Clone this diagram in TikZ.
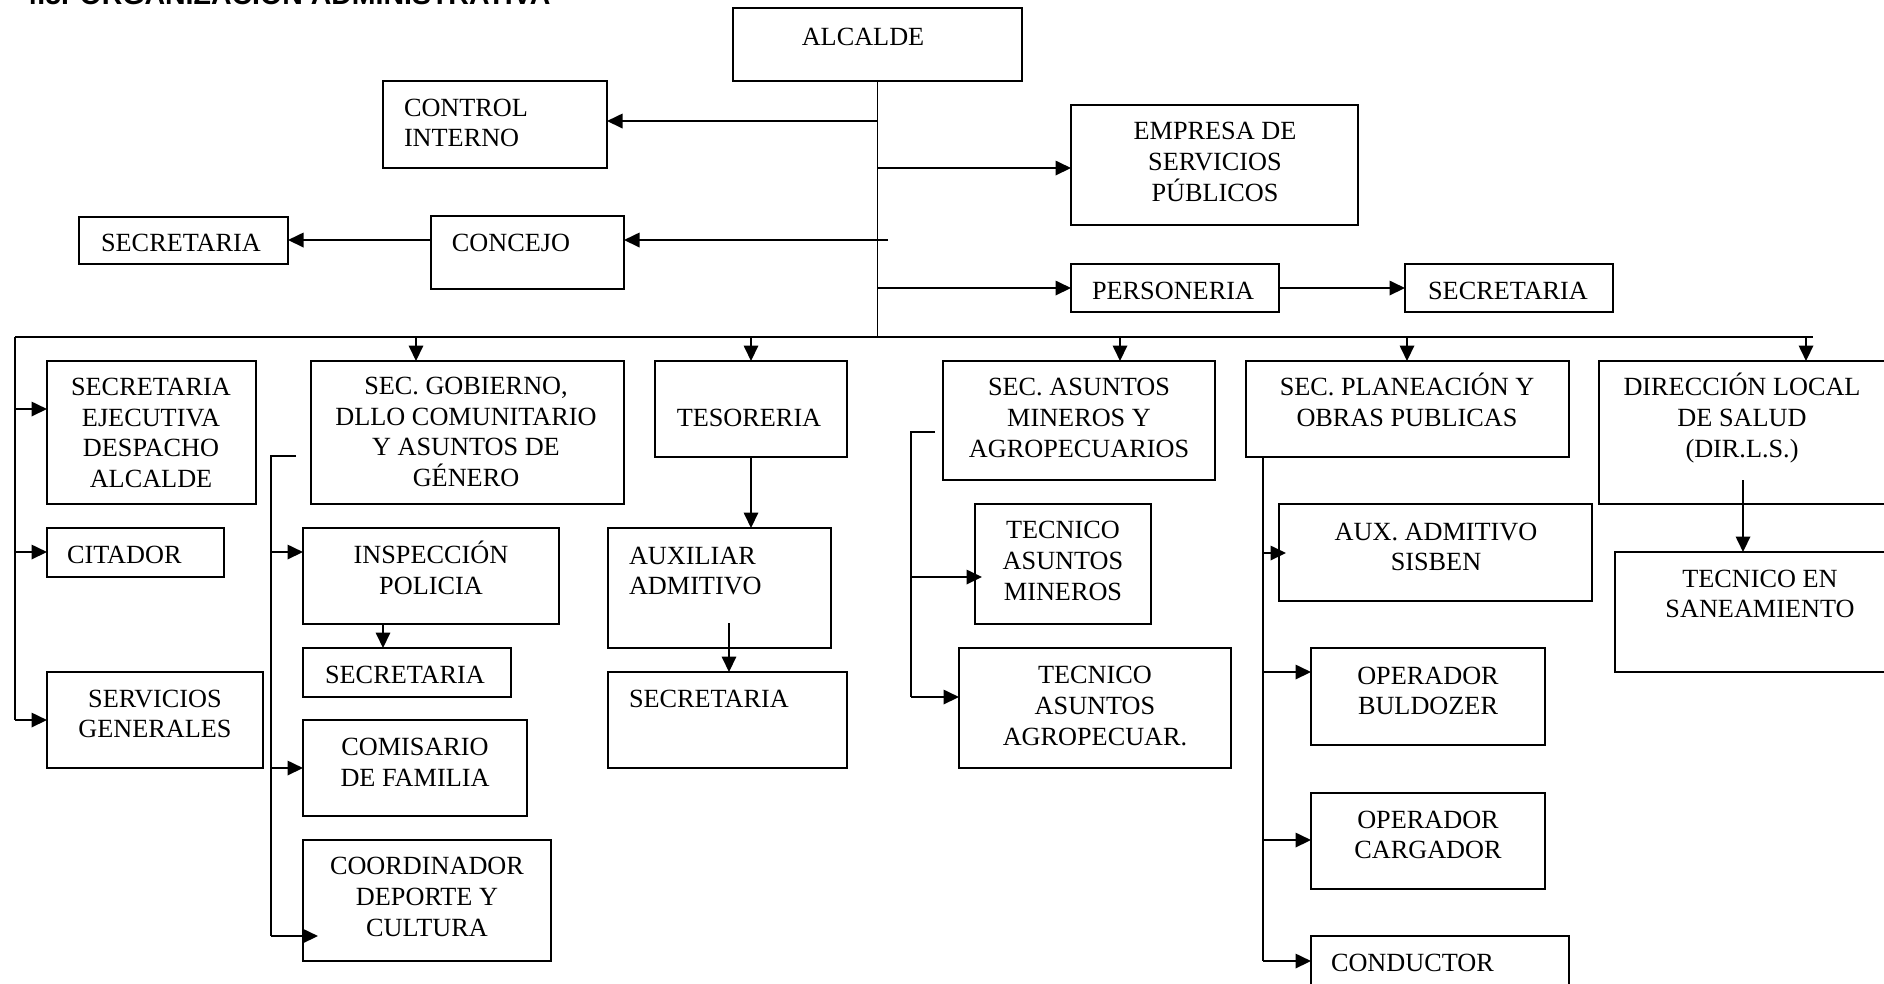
\documentclass[tikz,border=0pt]{standalone}
\usepackage{fontspec}
\setmainfont{Liberation Serif}
\newfontfamily\titlefont{Liberation Sans}
\usetikzlibrary{arrows.meta}
\tikzset{
  orgbox/.style={draw, line width=0.75pt, inner sep=0pt, outer sep=0pt, rectangle},
  lbl/.style={inner sep=0pt, outer sep=0pt, align=center, font=\fontsize{10.5}{12.3}\selectfont},
  lbll/.style={lbl, align=left, anchor=west},
  conn/.style={line width=0.7pt},
  arr/.style={conn, -{Triangle[length=6.2pt,width=5.8pt]}},
}
\newcommand{\obox}[5]{\node[orgbox, minimum width={(#4-#2)*0.4pt}, minimum height={(#5-#3)*0.4pt}] (#1) at ({(#2+#4)/2},{(#3+#5)/2}) {};}
\begin{document}
\begin{tikzpicture}[x=0.4pt,y=-0.4pt]
\useasboundingbox (0,0) rectangle (1884,983);
% title (cut off at top edge)
\node[anchor=base west, inner sep=0pt, font=\titlefont\bfseries\fontsize{11.4}{13}\selectfont] (title) at (21,4) {4.5. ORGANIZACIÓN ADMINISTRATIVA};
% boxes
\obox{alcalde}{733}{8}{1022}{81}
\obox{ctrl}{383}{81}{607}{168}
\obox{empresa}{1071}{105}{1358}{225}
\obox{secA}{79}{217}{288}{264}
\obox{concejo}{431}{216}{624}{289}
\obox{personeria}{1071}{264}{1279}{312}
\obox{secB}{1405}{264}{1613}{312}
\obox{secej}{47}{361}{256}{504}
\obox{gob}{311}{361}{624}{504}
\obox{tes}{655}{361}{847}{457}
\obox{mineros}{943}{361}{1215}{480}
\obox{plan}{1246}{361}{1569}{457}
\obox{dir}{1599}{361}{1887}{504}
\obox{citador}{47}{528}{224}{577}
\obox{insp}{303}{528}{559}{624}
\obox{secC}{303}{648}{511}{697}
\obox{servgen}{47}{672}{263}{768}
\obox{comis}{303}{720}{527}{816}
\obox{coord}{303}{840}{551}{961}
\obox{aux}{608}{528}{831}{648}
\obox{secD}{608}{672}{847}{768}
\obox{tecmin}{975}{504}{1151}{624}
\obox{tecagro}{959}{648}{1231}{768}
\obox{sisben}{1279}{504}{1592}{601}
\obox{buld}{1311}{648}{1545}{745}
\obox{carg}{1311}{793}{1545}{889}
\obox{cond}{1311}{936}{1569}{1010}
\obox{tecsan}{1615}{552}{1905}{672}
% texts
\node[lbl] (alcaldeT) at (863,37) {ALCALDE};
\node[lbll] (ctrlT) at (404,123) {CONTROL\\INTERNO};
\node[lbl] (empresaT) at (1215,162) {EMPRESA DE\\SERVICIOS\\PÚBLICOS};
\node[lbl] (secAT) at (181,243) {SECRETARIA};
\node[lbl] (concejoT) at (511,243) {CONCEJO};
\node[lbl] (personeriaT) at (1173,291) {PERSONERIA};
\node[lbl] (secBT) at (1508,291) {SECRETARIA};
\node[lbl] (secejT) at (151,433) {SECRETARIA\\EJECUTIVA\\DESPACHO\\ALCALDE};
\node[lbl] (gobT) at (466,432) {SEC. GOBIERNO,\\DLLO COMUNITARIO\\Y ASUNTOS DE\\GÉNERO};
\node[lbl] (tesT) at (749,418) {TESORERIA};
\node[lbl] (minerosT) at (1079,418) {SEC. ASUNTOS\\MINEROS Y\\AGROPECUARIOS};
\node[lbl] (planT) at (1407,400) {SEC. PLANEACIÓN Y\\OBRAS PUBLICAS};
\node[lbl] (dirT) at (1742,418) {DIRECCIÓN LOCAL\\DE SALUD\\(DIR.L.S.)};
\node[lbll] (citadorT) at (67,555) {CITADOR};
\node[lbl] (inspT) at (431,568) {INSPECCIÓN\\POLICIA};
\node[lbl] (secCT) at (405,675) {SECRETARIA};
\node[lbl] (servgenT) at (155,714) {SERVICIOS\\GENERALES};
\node[lbl] (comisT) at (415,762) {COMISARIO\\DE FAMILIA};
\node[lbl] (coordT) at (427,897) {COORDINADOR\\DEPORTE Y\\CULTURA};
\node[lbll] (auxT) at (629,571) {AUXILIAR\\ADMITIVO};
\node[lbll] (secDT) at (629,699) {SECRETARIA};
\node[lbl] (tecminT) at (1063,561) {TECNICO\\ASUNTOS\\MINEROS};
\node[lbl] (tecagroT) at (1095,706) {TECNICO\\ASUNTOS\\AGROPECUAR.};
\node[lbl] (sisbenT) at (1436,547) {AUX. ADMITIVO\\SISBEN};
\node[lbl] (buldT) at (1428,691) {OPERADOR\\BULDOZER};
\node[lbl] (cargT) at (1428,835) {OPERADOR\\CARGADOR};
\node[lbll] (condT) at (1331,963) {CONDUCTOR};
\node[lbl] (tecsanT) at (1760,594) {TECNICO EN\\SANEAMIENTO};
% junction coordinates
\coordinate (busL) at (15,337);
\coordinate (busR) at (1813,337);
\coordinate (cj) at (888,240);
\coordinate (L1) at (15,409);
\coordinate (L2) at (15,552);
\coordinate (L3) at (15,720);
\coordinate (B1) at (416,337);
\coordinate (B2) at (751,337);
\coordinate (B3) at (1120,337);
\coordinate (B4) at (1407,337);
\coordinate (B5) at (1806,337);
\coordinate (G0) at (296,456);
\coordinate (G1) at (271,456);
\coordinate (G2) at (271,552);
\coordinate (G3) at (271,768);
\coordinate (G4) at (271,936);
\coordinate (G5) at (318,936);
\coordinate (I1) at (383,624);
\coordinate (A1) at (729,623);
\coordinate (M0) at (935,432);
\coordinate (M1) at (911,432);
\coordinate (M2) at (911,577);
\coordinate (M3) at (911,697);
\coordinate (M4) at (982,577);
\coordinate (P0) at (1263,457);
\coordinate (P1) at (1263,553);
\coordinate (P1e) at (1286,553);
\coordinate (P2) at (1263,672);
\coordinate (P3) at (1263,840);
\coordinate (P4) at (1263,961);
\coordinate (D1) at (1743,480);
\coordinate (T1) at (879,121);
\coordinate (T2) at (879,168);
% connectors: top
\draw[conn] (alcalde.south) -- (alcalde.south |- busL);
\draw[conn] (busL) -- (busR);
\draw[arr] (alcalde.south |- T1) -- (ctrl.east |- T1);
\draw[arr] (alcalde.south |- T2) -- (empresa.west |- T2);
\draw[arr] (cj) -- (concejo.east |- cj);
\draw[arr] (concejo.west |- cj) -- (secA.east |- cj);
\draw[arr] (alcalde.south |- personeria.west) -- (personeria.west);
\draw[arr] (personeria.east) -- (secB.west);
% left column
\draw[conn] (busL) -- (L3);
\draw[arr] (L1) -- (secej.west |- L1);
\draw[arr] (L2) -- (citador.west |- L2);
\draw[arr] (L3) -- (servgen.west |- L3);
% down arrows from bus
\draw[arr] (B1) -- (B1 |- gob.north);
\draw[arr] (B2) -- (B2 |- tes.north);
\draw[arr] (B3) -- (B3 |- mineros.north);
\draw[arr] (B4) -- (B4 |- plan.north);
\draw[arr] (B5) -- (B5 |- dir.north);
% gobierno branch
\draw[conn] (G0) -- (G1) -- (G4);
\draw[arr] (G2) -- (insp.west |- G2);
\draw[arr] (G3) -- (comis.west |- G3);
\draw[arr] (G4) -- (G5);
\draw[arr] (I1) -- (I1 |- secC.north);
% tesoreria branch
\draw[arr] (tes.south) -- (tes.south |- aux.north);
\draw[arr] (A1) -- (A1 |- secD.north);
% mineros branch
\draw[conn] (M0) -- (M1) -- (M3);
\draw[arr] (M2) -- (M4);
\draw[arr] (M3) -- (tecagro.west |- M3);
% planeacion branch
\draw[conn] (P0) -- (P4);
\draw[arr] (P1) -- (P1e);
\draw[arr] (P2) -- (buld.west |- P2);
\draw[arr] (P3) -- (carg.west |- P3);
\draw[arr] (P4) -- (cond.west |- P4);
% salud branch
\draw[arr] (D1) -- (D1 |- tecsan.north);
\end{tikzpicture}
\end{document}
